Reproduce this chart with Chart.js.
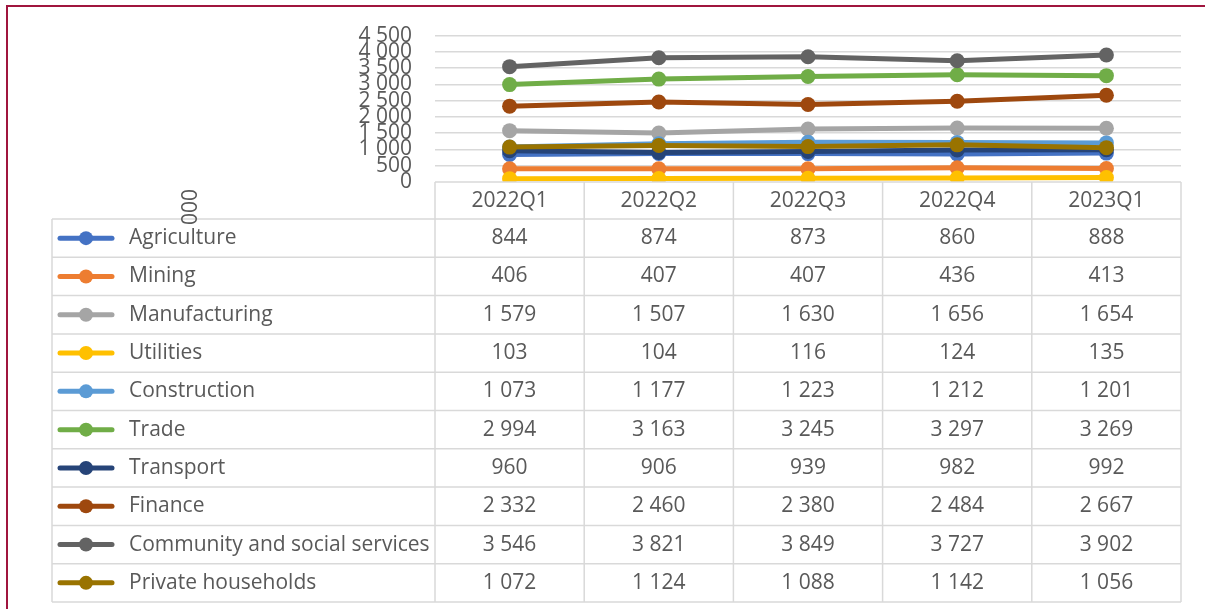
<!DOCTYPE html>
<html>
<head>
<meta charset="utf-8">
<script src="https://cdn.jsdelivr.net/npm/chart.js@4.4.1/dist/chart.umd.min.js"></script>
<style>
  html, body { margin: 0; padding: 0; background: #ffffff; }
  #wrap { position: relative; width: 1205px; height: 609px; }
</style>
</head>
<body>
<div id="wrap"><canvas id="chart" width="1205" height="609"></canvas></div>
<script>
// quarters shown along the x axis / table header
const quarters = ['2022Q1', '2022Q2', '2022Q3', '2022Q4', '2023Q1'];

const seriesNames = [
  'Agriculture', 'Mining', 'Manufacturing', 'Utilities', 'Construction',
  'Trade', 'Transport', 'Finance', 'Community and social services', 'Private households'
];
const seriesColors = [
  '#4472C4', '#ED7D31', '#A5A5A5', '#FFC000', '#5B9BD5',
  '#70AD47', '#264478', '#9E480E', '#636363', '#997300'
];

const agriculture = [844, 874, 873, 860, 888];
const mining = [406, 407, 407, 436, 413];
const manufacturing = [1579, 1507, 1630, 1656, 1654];
const utilities = [103, 104, 116, 124, 135];
const construction = [1073, 1177, 1223, 1212, 1201];
const trade = [2994, 3163, 3245, 3297, 3269];
const transport = [960, 906, 939, 982, 992];
const finance = [2332, 2460, 2380, 2484, 2667];
const community = [3546, 3821, 3849, 3727, 3902];
const households = [1072, 1124, 1088, 1142, 1056];

const seriesValues = [
  agriculture, mining, manufacturing, utilities, construction,
  trade, transport, finance, community, households
];

const yTicks = [0, 500, 1000, 1500, 2000, 2500, 3000, 3500, 4000, 4500];
const axisTitle = '000';

const FONT = "'Open Sans', sans-serif";
const FONT_SIZE = 21;
const TEXT = '#595959';
const GRID = '#d9d9d9';

// space-separated thousands, like the source
function fmt(v) {
  return String(v).replace(/\B(?=(\d{3})+(?!\d))/g, ' ');
}

const datasets = seriesNames.map((name, i) => ({
  label: name,
  data: seriesValues[i],
  borderColor: seriesColors[i],
  backgroundColor: seriesColors[i],
  pointBackgroundColor: seriesColors[i],
  pointBorderColor: seriesColors[i],
  borderWidth: 5,
  pointRadius: 7.5,
  pointBorderWidth: 0,
  tension: 0,
  order: seriesNames.length - i
}));

// data table + legend keys under the plot
const dataTable = {
  id: 'dataTable',
  afterDraw(chart) {
    const ctx = chart.ctx;
    const x = chart.scales.x;
    const top = chart.chartArea.bottom;
    const headerH = 37;
    const rowH = 38.3;
    const tableLeft = 52;
    const step = x.getPixelForValue(1) - x.getPixelForValue(0);
    const colLeft = x.getPixelForValue(0) - step / 2;
    const colRight = x.getPixelForValue(quarters.length - 1) + step / 2;
    const bodyTop = top + headerH;
    const bottom = bodyTop + rowH * seriesNames.length;

    ctx.save();
    ctx.strokeStyle = GRID;
    ctx.lineWidth = 1.5;
    ctx.beginPath();
    ctx.moveTo(colLeft, top); ctx.lineTo(colRight, top);
    for (let r = 0; r <= seriesNames.length; r++) {
      const y = bodyTop + r * rowH;
      ctx.moveTo(tableLeft, y); ctx.lineTo(colRight, y);
    }
    ctx.moveTo(tableLeft, bodyTop); ctx.lineTo(tableLeft, bottom);
    for (let c = 0; c <= quarters.length; c++) {
      const cx = colLeft + c * step;
      ctx.moveTo(cx, top); ctx.lineTo(cx, bottom);
    }
    ctx.stroke();

    ctx.font = FONT_SIZE + 'px ' + FONT;
    ctx.fillStyle = TEXT;
    ctx.textBaseline = 'middle';
    ctx.textAlign = 'center';
    quarters.forEach((q, c) => {
      ctx.fillText(q, x.getPixelForValue(c), top + headerH / 2 + 1);
    });

    seriesNames.forEach((name, r) => {
      const cy = bodyTop + r * rowH + rowH / 2;
      // legend key
      ctx.strokeStyle = seriesColors[r];
      ctx.lineWidth = 5;
      ctx.lineCap = 'round';
      ctx.beginPath();
      ctx.moveTo(60, cy); ctx.lineTo(112, cy);
      ctx.stroke();
      ctx.fillStyle = seriesColors[r];
      ctx.beginPath();
      ctx.arc(86, cy, 7, 0, Math.PI * 2);
      ctx.fill();

      ctx.fillStyle = TEXT;
      ctx.textAlign = 'left';
      ctx.fillText(name, 129, cy);
      ctx.textAlign = 'center';
      seriesValues[r].forEach((v, c) => {
        ctx.fillText(fmt(v), x.getPixelForValue(c), cy);
      });
    });

    // axis title, rotated
    ctx.translate(191, 207);
    ctx.rotate(-Math.PI / 2);
    ctx.fillText(axisTitle, 0, 0);
    ctx.restore();

    // outer frame
    ctx.save();
    ctx.strokeStyle = '#A0153E';
    ctx.lineWidth = 2;
    ctx.strokeRect(7, 6, 1220, 640);
    ctx.restore();
  }
};

const whiteBg = {
  id: 'whiteBg',
  beforeDraw(chart) {
    const ctx = chart.ctx;
    ctx.save();
    ctx.fillStyle = '#ffffff';
    ctx.fillRect(0, 0, chart.width, chart.height);
    ctx.restore();
  }
};

new Chart(document.getElementById('chart'), {
  type: 'line',
  data: { labels: quarters, datasets },
  options: {
    responsive: false,
    animation: false,
    layout: { padding: { top: 34, right: 24, bottom: 427, left: 0 } },
    plugins: {
      legend: { display: false },
      tooltip: { enabled: false },
      title: { display: false }
    },
    scales: {
      x: { display: false, offset: true },
      y: {
        min: 0,
        max: 4500,
        afterFit: (scale) => { scale.width = 435; },
        afterBuildTicks: (scale) => { scale.ticks = yTicks.map((v) => ({ value: v })); },
        border: { display: false },
        grid: {
          color: (c) => (c.tick && c.tick.value === 0 ? 'rgba(0,0,0,0)' : GRID),
          lineWidth: 1.5,
          drawTicks: false
        },
        ticks: {
          autoSkip: false,
          padding: 23,
          color: TEXT,
          font: { family: FONT, size: FONT_SIZE },
          callback: (v) => fmt(v)
        }
      }
    }
  },
  plugins: [whiteBg, dataTable]
});
</script>
</body>
</html>
